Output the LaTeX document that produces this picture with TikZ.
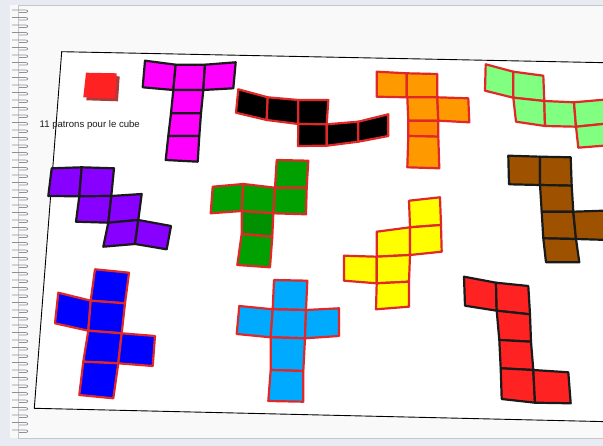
\documentclass[tikz,border=0pt]{standalone}
\usepackage{fontspec}
\newfontfamily\labelfont{Liberation Sans}
\definecolor{frameblue}{HTML}{E8ECF2}
\definecolor{pagegray}{HTML}{F9F9F9}
\definecolor{pageline}{HTML}{C4C6CA}
\definecolor{tickgray}{HTML}{8E9094}
\definecolor{edgered}{HTML}{E02828}
\definecolor{edgeblk}{HTML}{1A1A1A}
\definecolor{cMag}{HTML}{FF00FF}
\definecolor{cOr}{HTML}{FF9900}
\definecolor{cOrD}{HTML}{FF8800}
\definecolor{cLg}{HTML}{80FF80}
\definecolor{cPu}{HTML}{8800FF}
\definecolor{cGr}{HTML}{00A000}
\definecolor{cGrD}{HTML}{009000}
\definecolor{cYe}{HTML}{FFFF00}
\definecolor{cBr}{HTML}{9E5200}
\definecolor{cRe}{HTML}{FF2222}
\definecolor{cBl}{HTML}{0000FF}
\definecolor{cCy}{HTML}{00AAFF}
\definecolor{cShadow}{HTML}{B03A3A}
\newcommand\sq[5]{\filldraw[#1] #2 -- #3 -- #4 -- #5 -- cycle;}
\tikzset{
  pr/.style={draw=edgered, line width=2.2pt, line join=round},
  pk/.style={draw=edgeblk, line width=2.2pt, line join=round},
  tickline/.style={draw=tickgray, line width=0.7pt},
  paperline/.style={draw=black, line width=0.9pt}
}
\begin{document}
\begin{tikzpicture}[x=1pt,y=-1pt]
\useasboundingbox (0,0) rectangle (603,446);
\clip (0,0) rectangle (603,446);
% frame and page
\fill[frameblue] (0,0) rectangle (603,446);
\fill[pagegray] (10,5.5) rectangle (610,438.3);
\draw[pageline, line width=0.8pt] (610,5.5) -- (18,5.5) -- (18,438.3) -- (610,438.3);
\foreach \k in {0,...,56} {
  \pgfmathsetmacro\yy{10+7.5*\k}
  \draw[tickline] (12,\yy) -- (25.5,\yy) .. controls (28.5,\yy) and (28.5,\yy+2.6) .. (25.5,\yy+2.6) -- (19,\yy+2.6);
}
% paper
\fill[white] (61.7,51.7) -- (620,63) -- (620,422) -- (34.3,408.3) -- cycle;
\draw[paperline] (620,63) -- (61.7,51.7) -- (34.3,408.3) -- (620,422);
\node[font=\labelfont\fontsize{9.6}{11}\selectfont, anchor=base west, inner sep=0pt, text=black!90] (title) at (39.5,128) {11 patrons pour le cube};
% small red cube
\fill[cShadow] (89,75.7) -- (119.7,76.3) -- (118,101.3) -- (86.3,100.3) -- cycle;
\fill[cRe] (86,72.7) -- (116.7,73.3) -- (115,98.3) -- (83.3,97.3) -- cycle;
% magenta
\sq{pk,fill=cMag}{(145,60.7)}{(175.7,64.7)}{(173.3,90)}{(142.7,87.3)}
\sq{pk,fill=cMag}{(175.7,64.7)}{(205,64.7)}{(203.3,90)}{(173.3,90)}
\sq{pk,fill=cMag}{(205,64.7)}{(235.7,62.3)}{(233.3,88.3)}{(203.3,90)}
\sq{pk,fill=cMag}{(173.3,90)}{(203.3,90)}{(201,113.3)}{(171,113.3)}
\sq{pk,fill=cMag}{(171,113.3)}{(201,113.3)}{(199.3,136)}{(168.3,136)}
\sq{pk,fill=cMag}{(168.3,136)}{(199.3,136)}{(197.7,161.7)}{(165.7,160)}
% black
\sq{pr,fill=black}{(238.3,89.3)}{(267.7,97.3)}{(266.7,120)}{(236,112.7)}
\sq{pr,fill=black}{(267.7,97.3)}{(298.3,100)}{(298.3,124)}{(266.7,120)}
\sq{pr,fill=black}{(298.3,100)}{(328.3,100)}{(326.7,124.3)}{(298.3,124)}
\sq{pr,fill=black}{(298.3,124)}{(326.7,124.3)}{(326.7,145.7)}{(298,146)}
\sq{pr,fill=black}{(326.7,124.3)}{(358.3,121.7)}{(358.3,141.7)}{(326.7,145.7)}
\sq{pr,fill=black}{(358.3,121.7)}{(388.3,114.3)}{(388.3,136)}{(358.3,141.7)}
% orange
\sq{pr,fill=cOr}{(376.7,71.7)}{(406.7,73.3)}{(406.7,97.3)}{(376.7,96.7)}
\sq{pr,fill=cOr}{(406.7,73.3)}{(437.3,74)}{(437.3,97.3)}{(406.7,97.3)}
\sq{pr,fill=cOr}{(407.3,97.3)}{(437.3,97.3)}{(438.3,120.7)}{(408.3,120.7)}
\sq{pr,fill=cOr}{(437.3,97.3)}{(468.3,98.3)}{(469.3,122.3)}{(438.3,120.7)}
\sq{pr,fill=cOrD}{(408.3,120.7)}{(438.3,120.7)}{(438.3,136.7)}{(408.3,136)}
\sq{pr,fill=cOr}{(408.3,136)}{(438.3,136.7)}{(439.3,168.3)}{(407.3,167.3)}
% light green
\sq{pr,fill=cLg}{(485.7,64.3)}{(513.3,71.7)}{(513.3,97.7)}{(485,90.7)}
\sq{pr,fill=cLg}{(513.3,71.7)}{(543.3,75.7)}{(544.3,101)}{(513.3,97.7)}
\sq{pr,fill=cLg}{(513.3,97.7)}{(544.3,101)}{(545,126)}{(516,121.7)}
\sq{pr,fill=cLg}{(544.3,101)}{(574,102.3)}{(576,126.7)}{(545,126)}
\sq{pr,fill=cLg}{(574,102.3)}{(606,99.5)}{(606,123.7)}{(576,126.7)}
\sq{pr,fill=cLg}{(576,126.7)}{(606,123.7)}{(606,145.5)}{(578.3,147.7)}
% purple
\sq{pk,fill=cPu}{(51.7,168.3)}{(81.7,167.3)}{(79.3,196.3)}{(48.3,196)}
\sq{pk,fill=cPu}{(81.7,167.3)}{(114,168.3)}{(111.3,196)}{(79.3,196.3)}
\sq{pk,fill=cPu}{(79.3,196.3)}{(111.3,196)}{(108.3,222.7)}{(76,221.7)}
\sq{pk,fill=cPu}{(111.3,196)}{(141.7,194)}{(138.3,220)}{(108.3,222.7)}
\sq{pk,fill=cPu}{(108.3,222.7)}{(138.3,220)}{(135,244)}{(103.3,246.7)}
\sq{pk,fill=cPu}{(138.3,220)}{(171,226)}{(166.7,249.3)}{(135,244)}
% green
\sq{pr,fill=cGr}{(276.7,160)}{(308.3,160.7)}{(306.7,187.7)}{(275,187.7)}
\sq{pr,fill=cGr}{(212.7,186.7)}{(243.3,184)}{(241.7,211)}{(210.7,213.3)}
\sq{pr,fill=cGr}{(243.3,184)}{(275,187.7)}{(273.3,213.3)}{(241.7,211)}
\sq{pr,fill=cGr}{(275,187.7)}{(306.7,187.7)}{(306,214.3)}{(273.3,213.3)}
\sq{pr,fill=cGrD}{(241.7,211)}{(273.3,213.3)}{(272.3,236.7)}{(241.7,234)}
\sq{pr,fill=cGr}{(241.7,234)}{(272.3,236.7)}{(270,267.3)}{(237.3,265)}
% yellow
\sq{pr,fill=cYe}{(409,200.7)}{(440,197.3)}{(441,225)}{(410,227.3)}
\sq{pr,fill=cYe}{(376.7,231.7)}{(410,227.3)}{(410,255)}{(376.7,256.7)}
\sq{pr,fill=cYe}{(410,227.3)}{(441,225)}{(441.7,251.7)}{(410,255)}
\sq{pr,fill=cYe}{(344,255.7)}{(376.7,256.7)}{(376.7,283.3)}{(344,280.7)}
\sq{pr,fill=cYe}{(376.7,256.7)}{(410,255)}{(409,281.7)}{(376.7,283.3)}
\sq{pr,fill=cYe}{(376.7,283.3)}{(409,281.7)}{(409,306.7)}{(376,309.3)}
% brown
\sq{pk,fill=cBr}{(508.3,155.7)}{(540,156.7)}{(540,185)}{(509,184.3)}
\sq{pk,fill=cBr}{(540,156.7)}{(570.7,157.3)}{(571.7,185.7)}{(540,185)}
\sq{pk,fill=cBr}{(540,185)}{(571.7,185.7)}{(573.3,211.7)}{(541.7,211.7)}
\sq{pk,fill=cBr}{(541.7,211.7)}{(573.3,211.7)}{(576,239)}{(543.3,238.3)}
\sq{pk,fill=cBr}{(573.3,211.7)}{(610,210.5)}{(610,240)}{(576,239)}
\sq{pk,fill=cBr}{(543.3,238.3)}{(576,239)}{(579.3,262.3)}{(546,262.3)}
% red L
\sq{pk,fill=cRe}{(464,276.7)}{(496,282.7)}{(496.7,310.7)}{(465,305.7)}
\sq{pk,fill=cRe}{(496,282.7)}{(528.3,286)}{(530,314.3)}{(496.7,310.7)}
\sq{pk,fill=cRe}{(496.7,310.7)}{(530,314.3)}{(531,341.7)}{(499.3,340)}
\sq{pk,fill=cRe}{(499.3,340)}{(531,341.7)}{(533.3,370)}{(500.7,368.3)}
\sq{pk,fill=cRe}{(500.7,368.3)}{(533.3,370)}{(535,402.7)}{(501.7,399)}
\sq{pk,fill=cRe}{(533.3,370)}{(568.3,372.3)}{(570.7,403.3)}{(535,402.7)}
% blue
\sq{pr,fill=cBl}{(95,269.3)}{(129,272.7)}{(125,303.3)}{(90.7,300.7)}
\sq{pr,fill=cBl}{(58.3,292.7)}{(90.7,300.7)}{(88.3,330.7)}{(55,323.3)}
\sq{pr,fill=cBl}{(90.7,300.7)}{(125,303.3)}{(121.7,333.3)}{(88.3,330.7)}
\sq{pr,fill=cBl}{(88.3,330.7)}{(121.7,333.3)}{(118.3,363.3)}{(83.3,361.7)}
\sq{pr,fill=cBl}{(121.7,333.3)}{(155,336)}{(152.7,366)}{(118.3,363.3)}
\sq{pr,fill=cBl}{(83.3,361.7)}{(118.3,363.3)}{(113.3,398.3)}{(79.3,395)}
% cyan
\sq{pr,fill=cCy}{(274,280)}{(307.3,280.7)}{(306,310)}{(272.7,309.3)}
\sq{pr,fill=cCy}{(239.3,306)}{(272.7,309.3)}{(270.7,337.3)}{(236.7,334)}
\sq{pr,fill=cCy}{(272.7,309.3)}{(306,310)}{(305,338.3)}{(270.7,337.3)}
\sq{pr,fill=cCy}{(306,310)}{(339,308.3)}{(339,336)}{(305,338.3)}
\sq{pr,fill=cCy}{(270.7,337.3)}{(305,338.3)}{(303.3,371)}{(270.7,370)}
\sq{pr,fill=cCy}{(270.7,370)}{(303.3,371)}{(303.3,401.7)}{(268.3,401)}
\end{tikzpicture}
\end{document}
